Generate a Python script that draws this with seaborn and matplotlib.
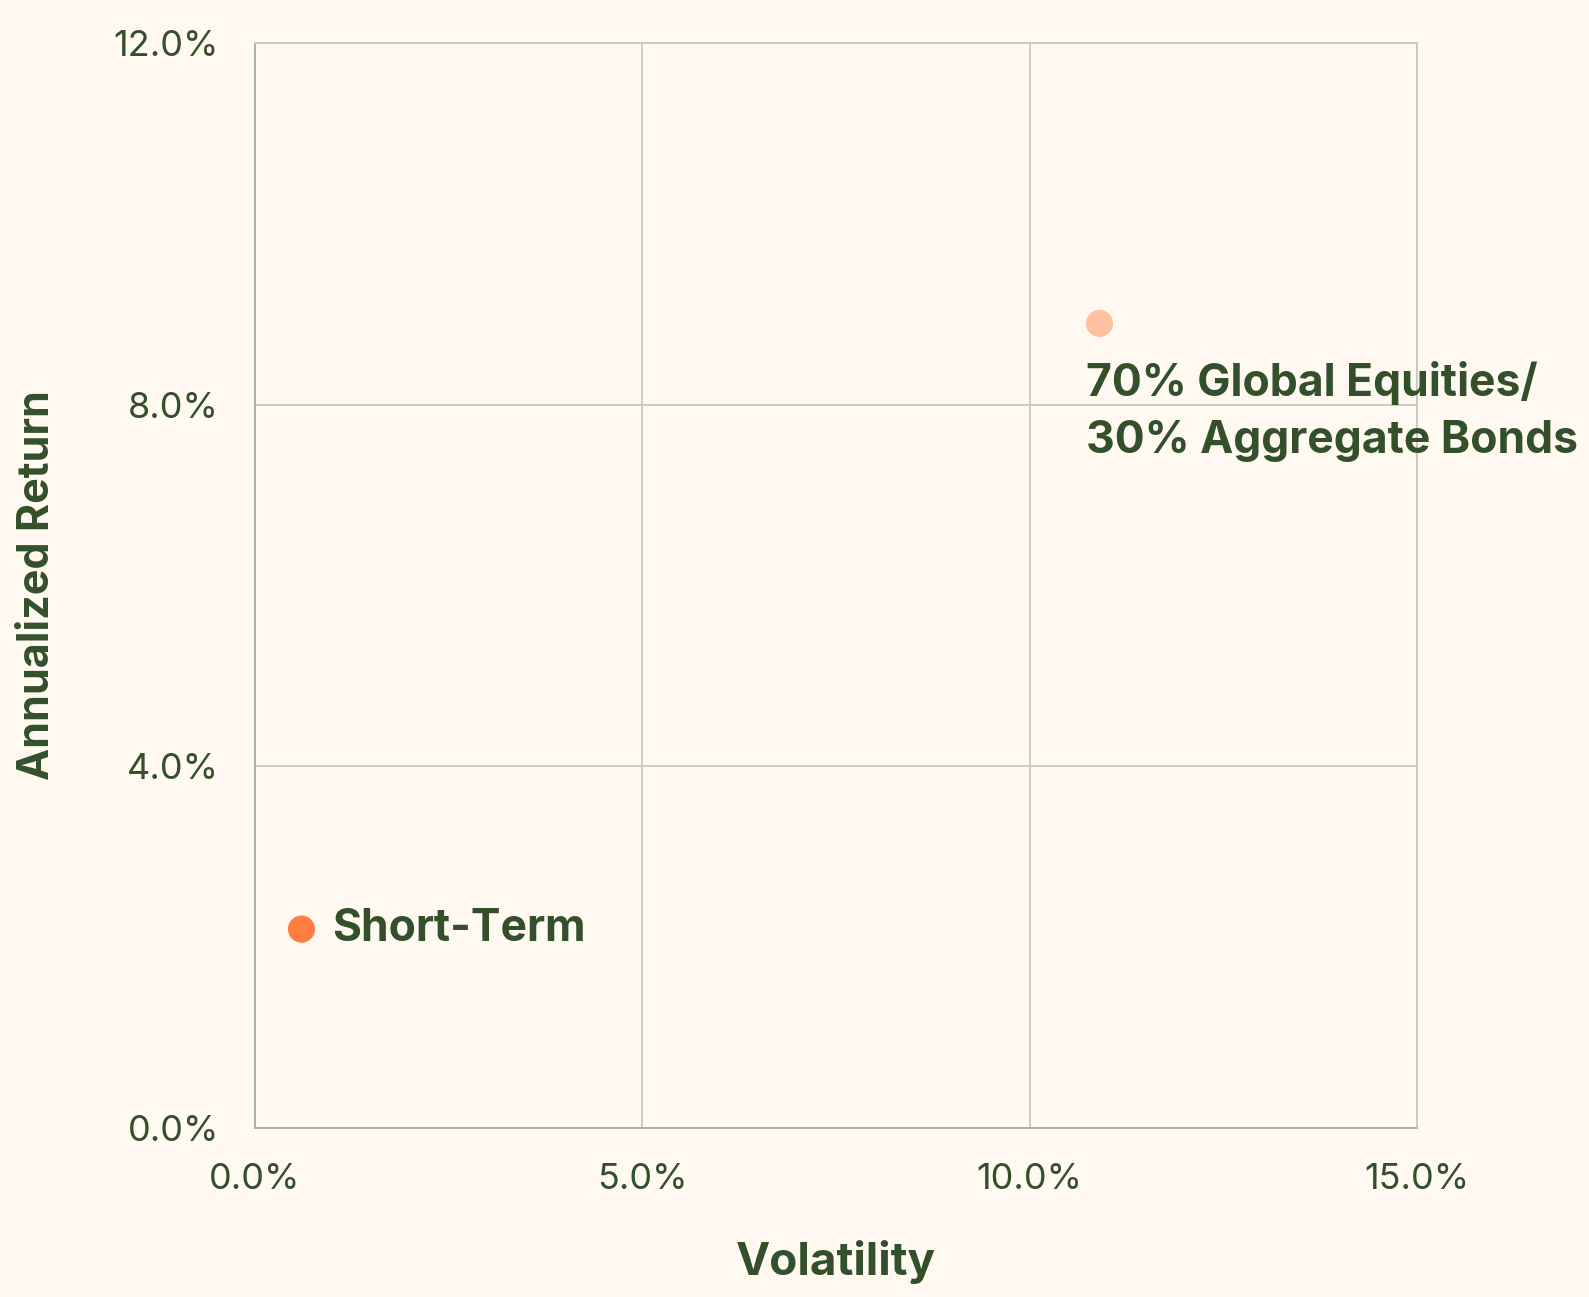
import matplotlib
matplotlib.use("Agg")
import matplotlib.pyplot as plt
import seaborn as sns
import pandas as pd
from matplotlib.ticker import FuncFormatter

# Datos
portfolios = ["Short-Term", "70% Global Equities/\n30% Aggregate Bonds"]
volatility = [0.6, 10.9]
annual_return = [2.2, 8.9]
point_colors = ["#FF7D40", "#FFBFA0"]
x_ticks = [0, 5, 10, 15]
y_ticks = [0, 4, 8, 12]

bg = "#FFF9F2"
green = "#33502B"
grid_c = "#C6CAC0"
spine_c = "#A3B39D"

sns.set_theme(style="white")
plt.rcParams["font.family"] = ["Inter", "DejaVu Sans"]

df = pd.DataFrame({"vol": volatility, "ret": annual_return, "name": portfolios})

fig = plt.figure(figsize=(15.89, 12.97), dpi=100, facecolor=bg)
ax = fig.add_axes([0.1605, 0.1303, 0.7313, 0.8365])
ax.set_facecolor(bg)

sns.scatterplot(data=df, x="vol", y="ret", hue="name", palette=point_colors,
                s=380, edgecolor="none", legend=False, ax=ax, zorder=3)

ax.set_xlim(0, 15)
ax.set_ylim(0, 12)
ax.set_xticks(x_ticks)
ax.set_yticks(y_ticks)
ax.xaxis.set_major_formatter(FuncFormatter(lambda v, p: f"{v:.1f}%"))
ax.yaxis.set_major_formatter(FuncFormatter(lambda v, p: f"{v:.1f}%"))
ax.tick_params(axis="both", length=0, labelsize=26, labelcolor=green)
ax.tick_params(axis="x", pad=25)
ax.tick_params(axis="y", pad=26)
ax.grid(True, color=grid_c, linewidth=1.3)

for s in ax.spines.values():
    s.set_color(grid_c)
    s.set_linewidth(1.3)
ax.spines["left"].set_color(spine_c)
ax.spines["bottom"].set_color(spine_c)

ax.set_xlabel("Volatility", fontsize=33, fontweight="bold", color=green, labelpad=32)
ax.set_ylabel("Annualized Return", fontsize=31, fontweight="bold", color=green, labelpad=40)

# Etiquetas de los puntos
ax.text(volatility[0] + 0.4, annual_return[0], portfolios[0], fontsize=32,
        fontweight="bold", color=green, ha="left", va="center")
ax.text(volatility[1] - 0.17, annual_return[1] - 0.42, portfolios[1], fontsize=32,
        fontweight="bold", color=green, ha="left", va="top", linespacing=1.45,
        clip_on=False)

fig.savefig("out.png", dpi=100, facecolor=bg)
